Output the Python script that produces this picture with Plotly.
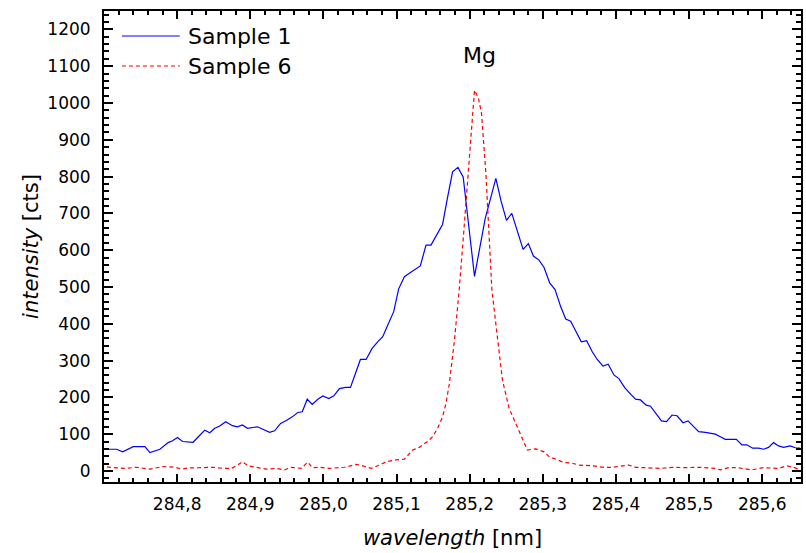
import plotly.graph_objects as go

# Sample 1 (blue, solid)
wl_s1 = [284.6945, 284.7173, 284.7255, 284.7400, 284.7559, 284.7628, 284.7764, 284.7877,
         284.7937, 284.8005, 284.8074, 284.8218, 284.8300, 284.8378, 284.8446, 284.8514,
         284.8583, 284.8664, 284.8756, 284.8824, 284.8892, 284.8961, 284.9097, 284.9187,
         284.9265, 284.9333, 284.9415, 284.9493, 284.9574, 284.9651, 284.9711, 284.9779,
         284.9847, 284.9924, 284.9992, 285.0074, 285.0142, 285.0220, 285.0302, 285.0370,
         285.0424, 285.0506, 285.0584, 285.0666, 285.0742, 285.0811, 285.0879, 285.0961,
         285.1029, 285.1107, 285.1175, 285.1266, 285.1325, 285.1403, 285.1471, 285.1547,
         285.1629, 285.1697, 285.1766, 285.1839, 285.1911, 285.1989, 285.2066, 285.2212,
         285.2284, 285.2358, 285.2426, 285.2503, 285.2576, 285.2730, 285.2802, 285.2871,
         285.2948, 285.3017, 285.3094, 285.3167, 285.3245, 285.3313, 285.3381, 285.3457,
         285.3526, 285.3599, 285.3676, 285.3744, 285.3822, 285.3894, 285.3972, 285.4040,
         285.4122, 285.4204, 285.4268, 285.4336, 285.4413, 285.4472, 285.4549, 285.4622,
         285.4691, 285.4767, 285.4835, 285.4917, 285.4985, 285.5063, 285.5131, 285.5222,
         285.5291, 285.5359, 285.5427, 285.5495, 285.5564, 285.5646, 285.5722, 285.5790,
         285.5868, 285.5950, 285.6018, 285.6086, 285.6155, 285.6223, 285.6292, 285.6382,
         285.6451, 285.6519]
int_s1 = [59, 59, 52, 66, 66, 50, 59, 77,
          82, 91, 80, 78, 95, 111, 104, 116,
          122, 134, 123, 120, 125, 116, 120, 111,
          105, 109, 129, 137, 147, 159, 161, 195,
          181, 195, 204, 197, 204, 224, 227, 227,
          256, 303, 303, 333, 351, 365, 396, 433,
          495, 528, 537, 550, 557, 614, 614, 641,
          670, 743, 813, 825, 799, 663, 529, 686,
          740, 795, 736, 681, 700, 602, 618, 584,
          573, 553, 511, 493, 446, 413, 407, 376,
          351, 354, 324, 303, 285, 290, 261, 251,
          226, 208, 195, 193, 179, 176, 157, 136,
          134, 152, 150, 131, 136, 120, 107, 105,
          102, 100, 93, 86, 86, 86, 71, 71,
          62, 62, 59, 64, 77, 68, 64, 68,
          63, 62]

# Sample 6 (red, dashed)
wl_s6 = [284.6945, 284.7082, 284.7286, 284.7446, 284.7628, 284.7809, 284.7969, 284.8060,
         284.8150, 284.8401, 284.8491, 284.8628, 284.8742, 284.8810, 284.8892, 284.8969,
         284.9083, 284.9220, 284.9356, 284.9469, 284.9561, 284.9697, 284.9787, 284.9847,
         284.9947, 285.0083, 285.0288, 285.0448, 285.0538, 285.0652, 285.0766, 285.0857,
         285.0993, 285.1107, 285.1220, 285.1311, 285.1424, 285.1493, 285.1561, 285.1629,
         285.1676, 285.1720, 285.1789, 285.1857, 285.1925, 285.1995, 285.2066, 285.2121,
         285.2162, 285.2222, 285.2303, 285.2375, 285.2448, 285.2539, 285.2621, 285.2699,
         285.2789, 285.2903, 285.3017, 285.3085, 285.3198, 285.3290, 285.3403, 285.3494,
         285.3676, 285.3835, 285.3948, 285.4063, 285.4176, 285.4268, 285.4426, 285.4609,
         285.4790, 285.4927, 285.5131, 285.5268, 285.5359, 285.5427, 285.5540, 285.5654,
         285.5858, 285.6018, 285.6223, 285.6336, 285.6427, 285.6519]
int_s6 = [14, 10, 7, 10, 5, 12, 10, 5,
          8, 8, 10, 7, 7, 14, 25, 14,
          10, 5, 7, 3, 10, 7, 24, 9,
          10, 7, 10, 18, 14, 7, 16, 25,
          30, 32, 57, 64, 80, 93, 116, 147,
          184, 235, 350, 493, 665, 850, 1035, 1012,
          971, 808, 493, 370, 247, 170, 134, 98,
          57, 60, 52, 39, 30, 23, 21, 16,
          14, 10, 10, 14, 16, 10, 9, 7,
          10, 9, 10, 7, 7, 3, 9, 9,
          3, 9, 7, 14, 10, 3]

x_range = [284.7, 285.653]
y_range = [-30, 1250]
x_ticks = [284.8, 284.9, 285.0, 285.1, 285.2, 285.3, 285.4, 285.5, 285.6]
x_ticklabels = ["284,8", "284,9", "285,0", "285,1", "285,2", "285,3", "285,4", "285,5", "285,6"]
y_ticks = [0, 100, 200, 300, 400, 500, 600, 700, 800, 900, 1000, 1100, 1200]
series_names = ["Sample 1", "Sample 6"]
peak_label = "Mg"
peak_pos = (285.213, 1130)

FONT = "DejaVu Sans"

fig = go.Figure()
fig.add_trace(go.Scatter(x=wl_s1, y=int_s1, mode="lines", name=series_names[0],
                         line=dict(color="#0000ff", width=1.2), showlegend=False))
fig.add_trace(go.Scatter(x=wl_s6, y=int_s6, mode="lines", name=series_names[1],
                         line=dict(color="#ff0000", width=1.2, dash="4px,3px"), showlegend=False))

axis_common = dict(
    showgrid=False, zeroline=False, showline=True, linecolor="black", linewidth=2,
    mirror="allticks", ticks="inside", tickcolor="black", tickwidth=2,
    tickfont=dict(family=FONT, size=17, color="black"),
)

fig.update_xaxes(
    range=x_range, tickvals=x_ticks, ticktext=x_ticklabels, ticklen=8, ticklabelstandoff=6,
    minor=dict(dtick=0.02, tick0=284.8, ticks="inside", ticklen=4, tickwidth=2, tickcolor="black"),
    title=dict(text="<i>wavelength</i> [nm]", font=dict(family=FONT, size=21, color="black"), standoff=17),
    **axis_common,
)
fig.update_yaxes(
    range=y_range, tickvals=y_ticks, ticklen=9, ticklabelstandoff=8,
    minor=dict(dtick=20, tick0=0, ticks="inside", ticklen=5, tickwidth=2, tickcolor="black"),
    title=dict(text="<i>intensity</i> [cts]", font=dict(family=FONT, size=21, color="black"), standoff=3),
    **axis_common,
)

# manual legend
legend_rows = [(0.9469, "#0000ff", "solid"), (0.8832, "#ff0000", "4px,3px")]
for (yy, col, dsh), nm in zip(legend_rows, series_names):
    fig.add_shape(type="line", xref="paper", yref="paper", x0=0.0258, x1=0.1087, y0=yy, y1=yy,
                  line=dict(color=col, width=1.2, dash=dsh))
    fig.add_annotation(xref="paper", yref="paper", x=0.1173, y=yy, text=nm, showarrow=False,
                       xanchor="left", yanchor="middle", font=dict(family=FONT, size=22, color="black"))

fig.add_annotation(x=peak_pos[0], y=peak_pos[1], text=peak_label, showarrow=False,
                   font=dict(family=FONT, size=22, color="black"))

fig.update_layout(
    width=806, height=553, margin=dict(l=104, r=3, t=11, b=71),
    plot_bgcolor="white", paper_bgcolor="white", showlegend=False,
)

fig.write_html("out.html")
